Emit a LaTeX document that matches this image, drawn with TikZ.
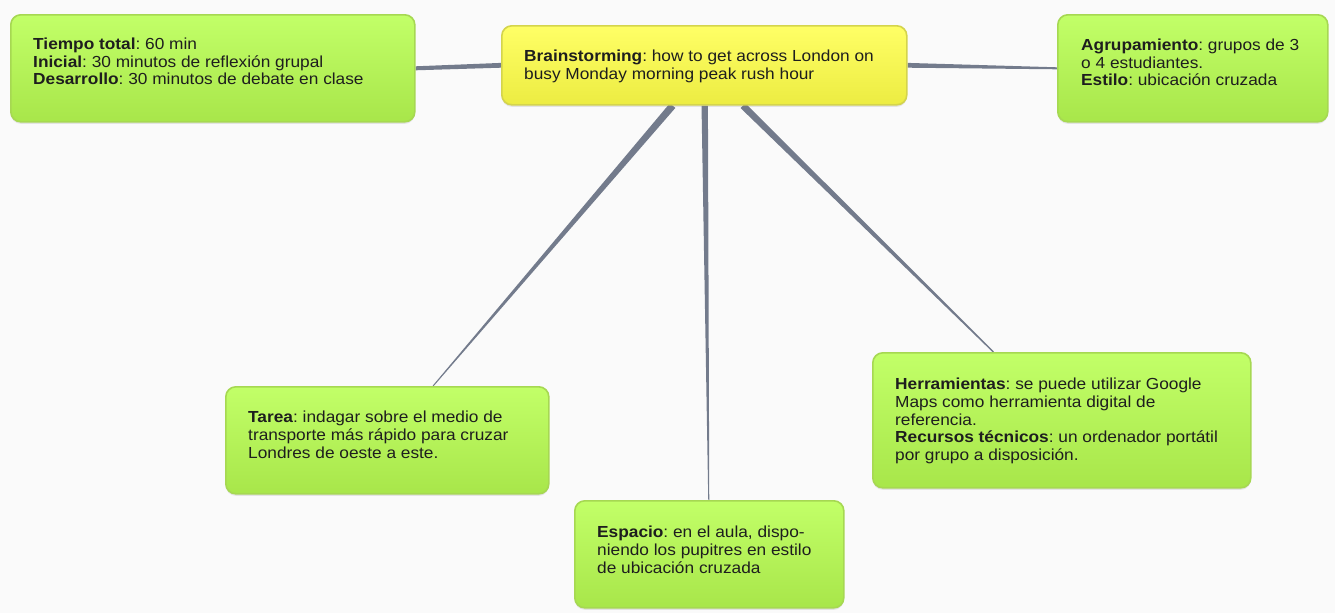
\documentclass[tikz,border=0pt]{standalone}
\usepackage{fontspec}
\setmainfont{Liberation Sans}[FakeStretch=1.08]
\usetikzlibrary{calc,shadows}
\pgfdeclarelayer{conlayer}
\pgfdeclarelayer{bglayer}
\pgfsetlayers{bglayer,conlayer,main}
\definecolor{gtop}{HTML}{C2FF68}
\definecolor{gbot}{HTML}{A8E64A}
\definecolor{gline}{HTML}{A6D852}
\definecolor{ytop}{HTML}{FFFF66}
\definecolor{ybot}{HTML}{ECEC42}
\definecolor{yline}{HTML}{D4D44C}
\definecolor{conncol}{HTML}{737B8C}
\definecolor{txtcol}{HTML}{1E1E1E}
\definecolor{pagebg}{HTML}{FAFAFA}
\frenchspacing
\tikzset{
  boxbase/.style={rectangle, rounded corners=10pt, line width=1.6pt, anchor=north west, inner sep=0pt,
    drop shadow={opacity=0.18, shadow xshift=0pt, shadow yshift=-2pt}},
  gbox/.style={boxbase, draw=gline, top color=gtop, bottom color=gbot},
  ybox/.style={boxbase, draw=yline, top color=ytop, bottom color=ybot},
  txt/.style={anchor=north west, inner sep=0pt, align=left, text=txtcol,
    font=\fontsize{16}{17.6}\selectfont},
}
\newcommand{\taperline}[4]{%
  \fill[conncol] ($(#1)!#3!90:(#2)$) -- ($(#1)!#3!-90:(#2)$) -- ($(#2)!#4!90:(#1)$) -- ($(#2)!#4!-90:(#1)$) -- cycle;}
\begin{document}
\begin{tikzpicture}[x=1pt,y=-1pt]
\begin{pgfonlayer}{bglayer}
\fill[pagebg] (0,0) rectangle (1335,613);
\end{pgfonlayer}
\useasboundingbox (0,0) rectangle (1335,613);

% boxes
\node[gbox, minimum width=404pt, minimum height=107pt] (tiempo) at (10,14) {};
\node[ybox, minimum width=405pt, minimum height=79pt] (brain) at (501,25) {};
\node[gbox, minimum width=270pt, minimum height=107pt] (agrup) at (1057,14) {};
\node[gbox, minimum width=323pt, minimum height=107pt] (tarea) at (225,386) {};
\node[gbox, minimum width=378pt, minimum height=135pt] (herr) at (872,352) {};
\node[gbox, minimum width=269pt, minimum height=107pt] (espacio) at (574,500) {};

% texts
\node[txt] (tiempoT) at (33,38) {\textbf{Tiempo total}: 60 min\\\textbf{Inicial}: 30 minutos de reflexión grupal\\\textbf{Desarrollo}: 30 minutos de debate en clase};
\node[txt] (brainT) at (524,50) {\textbf{Brainstorming}: how to get across London on\\busy Monday morning peak rush hour};
\node[txt] (agrupT) at (1081,39) {\textbf{Agrupamiento}: grupos de 3\\o 4 estudiantes.\\\textbf{Estilo}: ubicación cruzada};
\node[txt] (tareaT) at (248,411) {\textbf{Tarea}: indagar sobre el medio de\\transporte más rápido para cruzar\\Londres de oeste a este.};
\node[txt] (herrT) at (895,378) {\textbf{Herramientas}: se puede utilizar Google\\Maps como herramienta digital de\\referencia.\\\textbf{Recursos técnicos}: un ordenador portátil\\por grupo a disposición.};
\node[txt] (espacioT) at (597,526) {\textbf{Espacio}: en el aula, dispo-\\niendo los pupitres en estilo\\de ubicación cruzada};

% connector end points
\coordinate (bL) at (brain.west);
\coordinate (bR) at (brain.east);
\coordinate (b1) at ($(brain.south west)!0.422!(brain.south east)$);
\coordinate (b2) at ($(brain.south west)!0.501!(brain.south east)$);
\coordinate (b3) at ($(brain.south west)!0.595!(brain.south east)$);
\coordinate (tE) at (tiempo.east);
\coordinate (aW) at (agrup.west);
\coordinate (taN) at ($(tarea.north west)!0.641!(tarea.north east)$);
\coordinate (esN) at ($(espacio.north west)!0.498!(espacio.north east)$);
\coordinate (heN) at ($(herr.north west)!0.32!(herr.north east)$);

\begin{pgfonlayer}{conlayer}
\taperline{bL}{tE}{2.4pt}{2.0pt}
\taperline{bR}{aW}{2.4pt}{1.0pt}
\taperline{b1}{taN}{3.6pt}{0.5pt}
\taperline{b2}{esN}{3.2pt}{0.5pt}
\taperline{b3}{heN}{3.4pt}{0.7pt}
\end{pgfonlayer}
\end{tikzpicture}
\end{document}
